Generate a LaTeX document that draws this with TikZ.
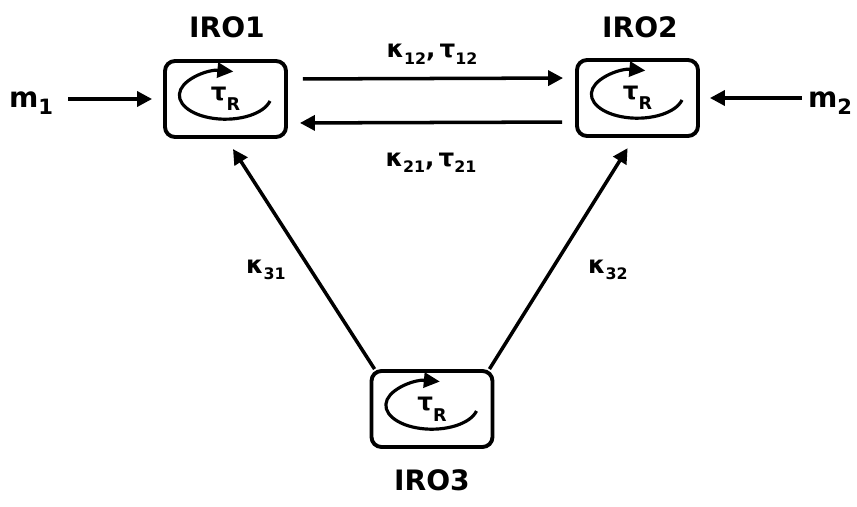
\documentclass[tikz,border=0pt]{standalone}
\usepackage{fontspec}
\setmainfont{DejaVu Sans}
\usetikzlibrary{positioning, arrows.meta, calc}
\newcommand{\lowidx}[2][9]{\raisebox{-0.5ex}{\fontsize{#1}{#1}\selectfont #2}}
\newcommand{\taur}{τ\raisebox{-6pt}{\fontsize{10}{10}\selectfont R}}

\begin{document}
\begin{tikzpicture}[
    iro/.style={draw, line width=2.2pt, rounded corners=0.2cm,
                minimum width=2.42cm, minimum height=1.52cm,
                font=\bfseries\fontsize{14}{16}\selectfont},
    ironame/.style={anchor=base, font=\bfseries\fontsize{16}{18}\selectfont},
    coef/.style={anchor=base, font=\bfseries\fontsize{14}{16}\selectfont},
    link/.style={line width=2pt, -{Triangle[length=0.3cm,width=0.3cm]}},
    turn/.style={line width=1.8pt, -{Triangle[length=0.32cm,width=0.3cm]}}
]
    \useasboundingbox (0,0) rectangle (17.14,10.12);

    % ring oscillators
    \node [iro] (iro1) at ( 4.51,8.14) {\taur};
    \node [iro] (iro2) at (12.75,8.16) {\taur};
    \node [iro] (iro3) at ( 8.64,1.94) {\taur};

    \node [ironame] (name1) at ( 4.54,9.38) {IRO1};
    \node [ironame] (name2) at (12.80,9.38) {IRO2};
    \node [ironame] (name3) at ( 8.64,0.32) {IRO3};

    \foreach \b in {iro1,iro2,iro3}
        \draw [turn] ([shift={(0.89,-0.04)}]\b.center)
              arc [start angle=-14, end angle=-280, x radius=0.92cm, y radius=0.48cm];

    % inputs
    \node [ironame] (m1) at ( 0.62,7.98) {m\lowidx[12]{1}};
    \node [ironame] (m2) at (16.60,7.98) {m\lowidx[12]{2}};

    \draw [link, shorten <=0.18cm, shorten >=0.22cm] (m1.east |- iro1.west) -- (iro1.west);
    \draw [link, shorten >=0.2cm] (m2.west |- iro2.east) -- (iro2.east);

    % couplings
    \draw [link, shorten <=0.30cm, shorten >=0.24cm] ([yshift= 0.40cm]iro1.east) -- ([yshift= 0.40cm]iro2.west);
    \draw [link, shorten <=0.26cm, shorten >=0.24cm] ([yshift=-0.48cm]iro2.west) -- ([yshift=-0.48cm]iro1.east);
    \draw [link, shorten >=0.24cm] ([xshift= 0.10cm]iro3.north west) -- ([xshift= 0.02cm]iro1.south);
    \draw [link, shorten >=0.24cm] ([xshift=-0.10cm]iro3.north east) -- ([xshift=-0.07cm]iro2.south);

    \node [coef] (k12) at ( 8.64,8.96) {κ\lowidx{12},\,τ\lowidx{12}};
    \node [coef] (k21) at ( 8.62,6.80) {κ\lowidx{21},\,τ\lowidx{21}};
    \node [coef, anchor=base west] (k31) at ( 4.80,4.66) {κ\lowidx{31}};
    \node [coef, anchor=base west] (k32) at (11.64,4.66) {κ\lowidx{32}};
\end{tikzpicture}
\end{document}
